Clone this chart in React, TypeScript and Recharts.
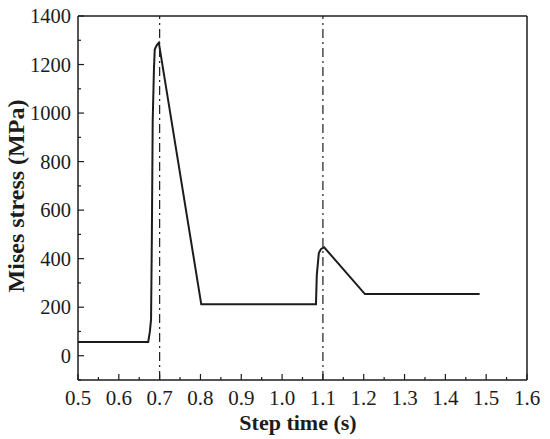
import React from 'react';
import {
  LineChart,
  Line,
  XAxis,
  YAxis,
  ReferenceLine
} from 'recharts';

// step time (s)
const times = [
  0.5, 0.672, 0.676, 0.679, 0.681, 0.683, 0.686, 0.688, 0.693, 0.698,
  0.802, 1.083, 1.085, 1.09, 1.095, 1.103, 1.203, 1.484
];
// Mises stress (MPa)
const stress = [
  57, 57, 98, 150, 500, 966, 1177, 1262, 1280, 1290,
  212, 212, 332, 423, 439, 447, 254, 254
];

const xTicks = [
  0.5, 0.55, 0.6, 0.65, 0.7, 0.75, 0.8, 0.85, 0.9, 0.95, 1.0, 1.05,
  1.1, 1.15, 1.2, 1.25, 1.3, 1.35, 1.4, 1.45, 1.5, 1.55, 1.6
];
const xLabels = ['0.5', '0.6', '0.7', '0.8', '0.9', '1.0', '1.1', '1.2', '1.3', '1.4', '1.5', '1.6'];

const yTicks = [-100, 0, 100, 200, 300, 400, 500, 600, 700, 800, 900, 1000, 1100, 1200, 1300, 1400];
const yLabels = [0, 200, 400, 600, 800, 1000, 1200, 1400];

const markers = [0.7, 1.1];

const data = times.map((t, i) => ({ t, s: stress[i] }));

const INK = '#1c1c1c';
const FONT = '"Liberation Serif", "Times New Roman", serif';

function XTick({ x, y, payload }: any) {
  const label = xLabels.find((l) => Math.abs(parseFloat(l) - payload.value) < 1e-6);
  return (
    <g>
      <line x1={x} y1={y} x2={x} y2={y - (label ? 6 : 3)} stroke={INK} strokeWidth={1.2} />
      {label && (
        <text x={x} y={y + 25} textAnchor="middle" fontSize={21} fill={INK} fontFamily={FONT}>
          {label}
        </text>
      )}
    </g>
  );
}

function YTick({ x, y, payload }: any) {
  const show = yLabels.includes(payload.value);
  return (
    <g>
      <line x1={x} y1={y} x2={x + (show ? 6 : 3)} y2={y} stroke={INK} strokeWidth={1.2} />
      {show && (
        <text x={x - 7} y={y + 7} textAnchor="end" fontSize={20.5} fill={INK} fontFamily={FONT}>
          {payload.value}
        </text>
      )}
    </g>
  );
}

function YTitle() {
  return (
    <text
      x={24}
      y={196}
      transform="rotate(-90 24 196)"
      textAnchor="middle"
      fontSize={24}
      fontWeight="bold"
      fill={INK}
      fontFamily={FONT}
    >
      Mises stress (MPa)
    </text>
  );
}

function XTitle() {
  return (
    <text x={298} y={430} textAnchor="middle" fontSize={22} fontWeight="bold" fill={INK} fontFamily={FONT}>
      Step time (s)
    </text>
  );
}

export default function App() {
  return (
    <div style={{ width: 550, height: 439, background: '#fff' }}>
      <style>{'body { margin: 0; }'}</style>
      <LineChart width={550} height={439} data={data} margin={{ top: 16, right: 23, left: 0, bottom: 0 }}>
        <XAxis
          dataKey="t"
          type="number"
          domain={[0.5, 1.6]}
          ticks={xTicks}
          interval={0}
          height={59}
          tickSize={0}
          tickMargin={0}
          tickLine={false}
          axisLine={{ stroke: INK, strokeWidth: 1.5 }}
          tick={<XTick />}
          label={<XTitle />}
          allowDataOverflow
        />
        <YAxis
          type="number"
          domain={[-100, 1400]}
          ticks={yTicks}
          interval={0}
          width={78}
          tickSize={0}
          tickMargin={0}
          tickLine={false}
          axisLine={{ stroke: INK, strokeWidth: 1.5 }}
          tick={<YTick />}
          label={<YTitle />}
          allowDataOverflow
        />
        <ReferenceLine y={1400} stroke={INK} strokeWidth={1.5} />
        <ReferenceLine x={1.6} stroke={INK} strokeWidth={1.5} />
        {markers.map((m) => (
          <ReferenceLine key={m} x={m} stroke={INK} strokeWidth={1.2} strokeDasharray="9 4 2 4" />
        ))}
        <Line
          type="linear"
          dataKey="s"
          stroke={INK}
          strokeWidth={2}
          dot={false}
          isAnimationActive={false}
        />
      </LineChart>
    </div>
  );
}
